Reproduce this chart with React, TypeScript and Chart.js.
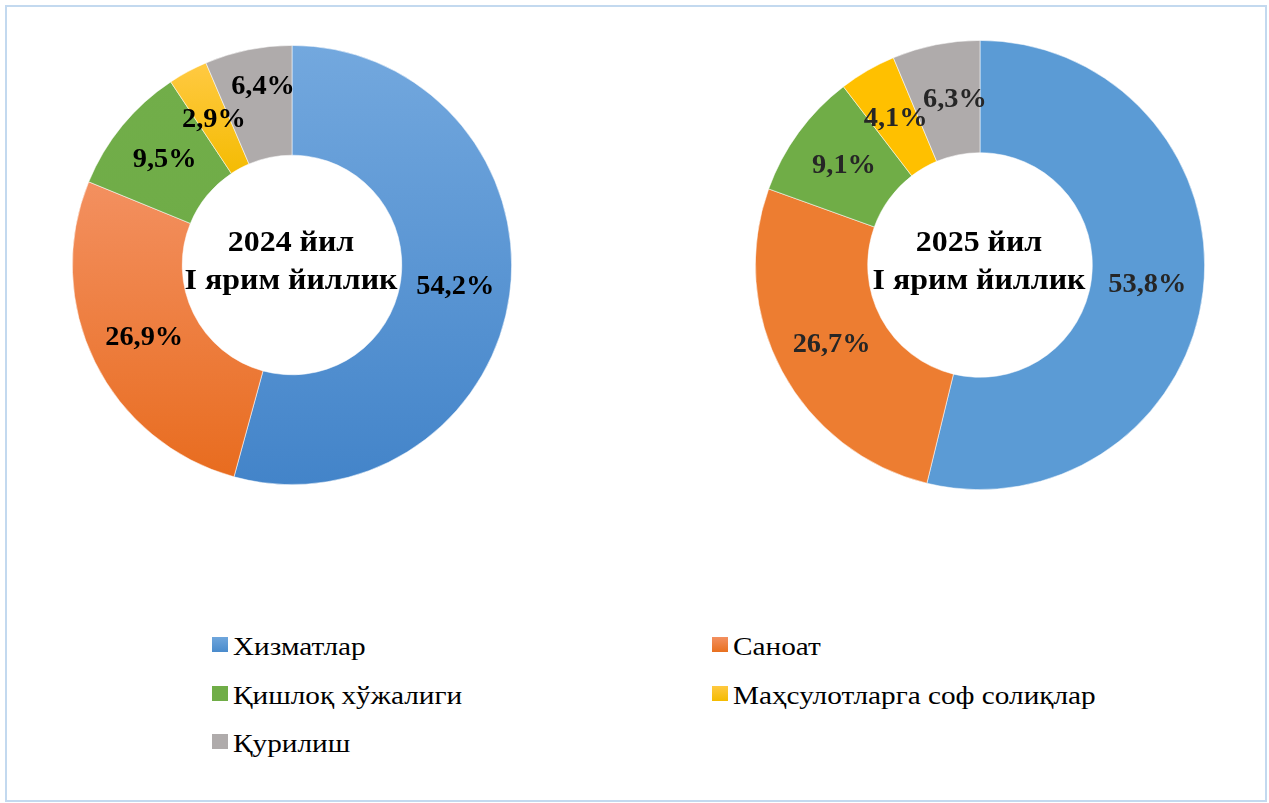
import React, { useEffect, useRef } from 'react';
import { Chart, registerables } from 'chart.js';

Chart.register(...registerables);

// ---------- data ----------
const categories = [
  'Хизматлар',
  'Саноат',
  'Қишлоқ хўжалиги',
  'Маҳсулотларга соф солиқлар',
  'Қурилиш',
];
const values2024 = [54.2, 26.9, 9.5, 2.9, 6.4];
const values2025 = [53.8, 26.7, 9.1, 4.1, 6.3];
const centerTitle2024 = ['2024 йил', 'I ярим йиллик'];
const centerTitle2025 = ['2025 йил', 'I ярим йиллик'];

// ---------- styles ----------
const FONT = '"Liberation Serif", "Times New Roman", serif';

const gradientStops2024: [number, string][][] = [
  [[0, '#73A8DE'], [1, '#4384C9']],
  [[0.31, '#F39060'], [0.98, '#E86C1F']],
  [[0, '#72AE4A'], [1, '#6CAA44']],
  [[0.05, '#FFC940'], [0.3, '#F4BB00']],
  [[0, '#AFABAB'], [1, '#AFABAB']],
];
const flatColors2025 = ['#5B9BD5', '#ED7D31', '#70AD47', '#FFC000', '#AFABAB'];

const labelOffsets2024 = [[0, 0], [0, 0], [0, 0], [0, 0], [4, -17]];
const labelOffsets2025 = [[0, 0], [0, 0], [0, 0], [0, 0], [8, 0]];

const legendSwatches = [
  'linear-gradient(#6FA6DC, #4A8BCC)',
  'linear-gradient(#F39060, #E8701F)',
  '#70AD47',
  'linear-gradient(#FFC940, #F4BB00)',
  '#AFABAB',
];

const fmt = (v: number) => v.toFixed(1).replace('.', ',') + '%';

function drawStretched(c: CanvasRenderingContext2D, text: string, x: number, y: number, sx: number) {
  c.save();
  c.translate(x, y);
  c.scale(sx, 1);
  c.fillText(text, 0, 0);
  c.restore();
}

type Props = {
  values: number[];
  title: string[];
  left: number;
  top: number;
  size: number;
  gradient: boolean;
  labelColor: string;
  labelOffsets: number[][];
};

function Donut({ values, title, left, top, size, gradient, labelColor, labelOffsets }: Props) {
  const ref = useRef<HTMLCanvasElement | null>(null);

  useEffect(() => {
    const canvas = ref.current;
    if (!canvas) return;

    const bg = (ctx: any) => {
      const i = ctx.dataIndex;
      if (!gradient) return flatColors2025[i];
      const chart = ctx.chart;
      const area = chart.chartArea;
      const stops = gradientStops2024[i];
      if (!area) return stops[0][1];
      const g = chart.ctx.createLinearGradient(0, area.top, 0, area.bottom);
      stops.forEach(([p, c]) => g.addColorStop(p, c));
      return g;
    };

    const labelPlugin = {
      id: 'donutLabels',
      afterDatasetsDraw(chart: any) {
        const c = chart.ctx as CanvasRenderingContext2D;
        const meta = chart.getDatasetMeta(0);
        c.save();
        c.font = `bold 27px ${FONT}`;
        c.fillStyle = labelColor;
        c.textAlign = 'center';
        c.textBaseline = 'middle';
        meta.data.forEach((arc: any, i: number) => {
          const p = arc.getCenterPoint();
          const off = labelOffsets[i] || [0, 0];
          drawStretched(c, fmt(values[i]), p.x + off[0], p.y + off[1], 1.05);
        });
        // center title
        const a0 = meta.data[0];
        c.font = `bold 29px ${FONT}`;
        c.fillStyle = '#000';
        drawStretched(c, title[0], a0.x - 1, a0.y - 21, 1.1);
        drawStretched(c, title[1], a0.x - 1, a0.y + 17, 1.1);
        c.restore();
      },
    };

    const chart = new Chart(canvas, {
      type: 'doughnut',
      data: {
        labels: categories,
        datasets: [
          {
            data: values,
            backgroundColor: bg,
            borderColor: 'rgba(255,255,255,0.7)',
            borderWidth: 0.75,
          },
        ],
      },
      options: {
        responsive: false,
        animation: false,
        events: [],
        cutout: '50%',
        layout: { padding: 0 },
        plugins: {
          legend: { display: false },
          tooltip: { enabled: false },
        },
      },
      plugins: [labelPlugin],
    });
    return () => chart.destroy();
  }, []);

  return (
    <canvas
      ref={ref}
      width={size}
      height={size}
      style={{ position: 'absolute', left, top, width: size, height: size }}
    />
  );
}

const legendItems = [
  { idx: 0, x: 212, row: 0 },
  { idx: 1, x: 712, row: 0 },
  { idx: 2, x: 212, row: 1 },
  { idx: 3, x: 712, row: 1 },
  { idx: 4, x: 212, row: 2 },
];
const rowBaselines = [656, 705, 753];

export default function App() {
  return (
    <div
      style={{
        position: 'absolute',
        left: 0,
        top: 0,
        width: 1269,
        height: 803,
        background: '#fff',
        overflow: 'hidden',
      }}
    >
      <div
        style={{
          position: 'absolute',
          left: 5,
          top: 5,
          width: 1262,
          height: 797,
          border: '2px solid #C3D9EF',
          boxSizing: 'border-box',
        }}
      />
      <Donut
        values={values2024}
        title={centerTitle2024}
        left={72}
        top={45}
        size={440}
        gradient={true}
        labelColor="#000"
        labelOffsets={labelOffsets2024}
      />
      <Donut
        values={values2025}
        title={centerTitle2025}
        left={755}
        top={40}
        size={450}
        gradient={false}
        labelColor="#262626"
        labelOffsets={labelOffsets2025}
      />
      {legendItems.map(({ idx, x, row }) => {
        const base = rowBaselines[row];
        return (
          <React.Fragment key={idx}>
            <div
              style={{
                position: 'absolute',
                left: x,
                top: base - 19.5,
                width: 15.5,
                height: 15.5,
                background: legendSwatches[idx],
              }}
            />
            <span
              style={{
                position: 'absolute',
                left: x + 21,
                top: base - 22.3,
                fontFamily: FONT,
                fontSize: 25,
                lineHeight: '25px',
                color: '#000',
                whiteSpace: 'nowrap',
                transform: 'scaleX(1.17)',
                transformOrigin: 'left center',
              }}
            >
              {categories[idx]}
            </span>
          </React.Fragment>
        );
      })}
    </div>
  );
}
